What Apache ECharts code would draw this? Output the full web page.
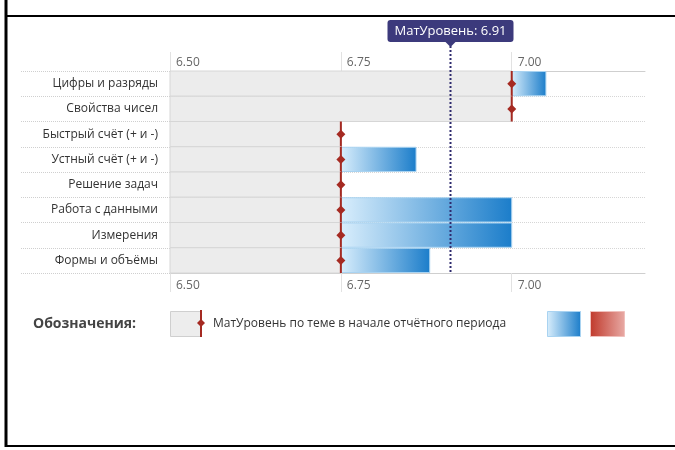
<!DOCTYPE html>
<html><head><meta charset="utf-8">
<script src="https://cdn.jsdelivr.net/npm/echarts@6/dist/echarts.min.js"></script>
<style>html,body{margin:0;padding:0;background:#fff}#c{width:675px;height:450px}</style>
</head><body><div id="c"></div>
<script>
const categories = ['Цифры и разряды','Свойства чисел','Быстрый счёт (+ и -)','Устный счёт (+ и -)','Решение задач','Работа с данными','Измерения','Формы и объёмы'];
const startLevel = [7.00, 7.00, 6.75, 6.75, 6.75, 6.75, 6.75, 6.75];
const endLevel   = [7.05, 7.00, 6.75, 6.86, 6.75, 7.00, 7.00, 6.88];
const currentLevel = 6.91;
const tickValues = [6.50, 6.75, 7.00];
const axisMin = 6.5, axisMax = 7.195;

const FONT = "'Open Sans', sans-serif";
const rowData = categories.map((c, i) => [i, startLevel[i], endLevel[i]]);

function renderRow(params, api) {
  const idx = api.value(0), s = api.value(1), e = api.value(2);
  const p0 = api.coord([axisMin, idx]);
  const p1 = api.coord([s, idx]);
  const p2 = api.coord([e, idx]);
  const h = api.size([0, 1])[1];
  const y = p0[1] - h / 2;
  const children = [];
  children.push({type: 'rect', shape: {x: p0[0], y: y, width: p1[0] - p0[0], height: h},
    style: {fill: '#ececec', stroke: '#d6d6d6', lineWidth: 1}});
  if (e > s) {
    children.push({type: 'rect', shape: {x: p1[0], y: y + 0.5, width: p2[0] - p1[0], height: h - 1},
      style: {fill: new echarts.graphic.LinearGradient(0, 0, 1, 0, [
        {offset: 0, color: '#d9eefc'}, {offset: 1, color: '#1b7dca'}]),
        stroke: '#a9d3f1', lineWidth: 1}});
  }
  children.push({type: 'line', shape: {x1: p1[0], y1: y, x2: p1[0], y2: y + h},
    style: {stroke: '#a52a22', lineWidth: 2}});
  const cy = p1[1], d = 4.5;
  children.push({type: 'polygon', shape: {points: [[p1[0], cy - d], [p1[0] + d, cy], [p1[0], cy + d], [p1[0] - d, cy]]},
    style: {fill: '#a52a22'}});
  return {type: 'group', children};
}

function renderCurrent(params, api) {
  const v = api.value(0);
  const cs = params.coordSys;
  const x = Math.round(api.coord([v, 0])[0]) + 0.5;
  const top = cs.y - 25;
  const bw = 126, bh = 22, by = cs.y - 51;
  return {type: 'group', children: [
    {type: 'line', shape: {x1: x, y1: top, x2: x, y2: cs.y + cs.height},
      style: {stroke: '#2e2b6e', lineWidth: 2, lineDash: [2, 2]}},
    {type: 'rect', shape: {x: x - bw / 2, y: by, width: bw, height: bh, r: 3},
      style: {fill: '#3c3a7c'}},
    {type: 'polygon', shape: {points: [[x - 5, by + bh], [x + 5, by + bh], [x, by + bh + 5]]},
      style: {fill: '#3c3a7c'}},
    {type: 'text', x: x, y: by + bh / 2, style: {text: 'МатУровень: ' + v.toFixed(2), fill: '#fff',
      font: '13px ' + FONT, align: 'center', verticalAlign: 'middle'}}
  ]};
}

function xAxisDef(position, margin, extra) {
  return Object.assign({
    type: 'value', position: position, min: axisMin, max: axisMax, interval: 0.25,
    axisLine: {show: true, lineStyle: {color: '#cfcfcf', width: 1}},
    axisTick: {show: true, length: 19, customValues: tickValues, lineStyle: {color: '#e2e2e2'}},
    axisLabel: {customValues: tickValues, formatter: v => v.toFixed(2), color: '#666', fontSize: 12,
      fontFamily: FONT, align: 'left', padding: [0, 0, 0, 6], margin: margin},
    splitLine: {show: false}
  }, extra || {});
}

const chart = echarts.init(document.getElementById('c'), null, {renderer: 'canvas'});
chart.setOption({
  animation: false,
  grid: {left: 170, right: 30, top: 71, height: 202},
  xAxis: [
    xAxisDef('top', 2, {splitLine: {show: true, showMinLine: true, showMaxLine: false, lineStyle: {color: '#e6e6e6'}}}),
    xAxisDef('bottom', 7)
  ],
  yAxis: {
    type: 'category', data: categories, inverse: true,
    axisLine: {show: false},
    axisTick: {show: true, length: 150, lineStyle: {color: '#cfcfcf', type: 'dotted'}},
    axisLabel: {color: '#333', fontSize: 12, fontFamily: FONT, margin: 12},
    splitLine: {show: true, lineStyle: {color: '#d6d6d6', type: 'dotted'}}
  },
  series: [
    {type: 'custom', renderItem: renderRow, data: rowData, encode: {x: [1, 2], y: 0}, z: 2},
    {type: 'custom', renderItem: renderCurrent, data: [[currentLevel]], encode: {x: 0}, z: 5}
  ],
  graphic: [
    {type: 'line', shape: {x1: 6, y1: 0, x2: 6, y2: 447}, style: {stroke: '#000', lineWidth: 3}},
    {type: 'line', shape: {x1: 6, y1: 16, x2: 675, y2: 16}, style: {stroke: '#000', lineWidth: 2}},
    {type: 'line', shape: {x1: 6, y1: 446, x2: 675, y2: 446}, style: {stroke: '#000', lineWidth: 2}},
    {type: 'text', left: 33, top: 317, style: {text: 'Обозначения:', font: 'bold 14px ' + FONT, fill: '#444'}},
    {type: 'rect', shape: {x: 170.5, y: 311.5, width: 31, height: 25}, style: {fill: '#ededed', stroke: '#cfcfcf', lineWidth: 1}},
    {type: 'line', shape: {x1: 201, y1: 310, x2: 201, y2: 337}, style: {stroke: '#a52a22', lineWidth: 2}},
    {type: 'polygon', shape: {points: [[201, 319], [205, 323], [201, 327], [197, 323]]}, style: {fill: '#a52a22'}},
    {type: 'text', left: 213, top: 318, style: {text: 'МатУровень по теме в начале отчётного периода', font: '12px ' + FONT, fill: '#333'}},
    {type: 'rect', shape: {x: 547.5, y: 311.5, width: 33, height: 25},
      style: {fill: new echarts.graphic.LinearGradient(0, 0, 1, 0, [{offset: 0, color: '#d9eefc'}, {offset: 1, color: '#1b7dca'}]), stroke: '#a9d3f1', lineWidth: 1}},
    {type: 'rect', shape: {x: 590.5, y: 311.5, width: 34, height: 25},
      style: {fill: new echarts.graphic.LinearGradient(0, 0, 1, 0, [{offset: 0, color: '#c0392b'}, {offset: 1, color: '#e8aaa5'}]), stroke: '#f0c0bc', lineWidth: 1}}
  ]
});
</script></body></html>
